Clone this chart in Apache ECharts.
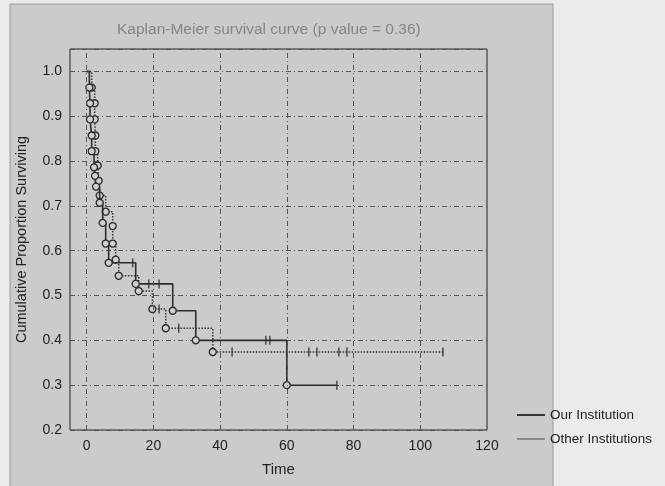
<!DOCTYPE html>
<html>
<head>
<meta charset="utf-8">
<script src="https://cdn.jsdelivr.net/npm/echarts@6/dist/echarts.min.js"></script>
<style>
  html, body { margin: 0; padding: 0; background: #ebebeb; }
  #chart { width: 665px; height: 486px; }
</style>
</head>
<body>
<div id="chart"></div>
<script>
// Kaplan-Meier steps (time, cumulative proportion surviving)
const ourTime = [0, 0.8, 1.0, 1.0, 1.5, 1.5, 2.2, 2.5, 2.8, 3.9, 4.8, 5.7, 6.6, 14.7, 25.8, 32.7, 60, 75];
const ourSurv = [1, 0.964, 0.929, 0.893, 0.857, 0.822, 0.786, 0.767, 0.743, 0.707, 0.662, 0.616, 0.573, 0.526, 0.466, 0.400, 0.300, 0.300];
const ourCensTime = [13.8, 18.6, 21.7, 53.7, 54.9, 75];
const ourCensSurv = [0.573, 0.526, 0.526, 0.400, 0.400, 0.300];

const otherTime = [0, 1.5, 2.4, 2.4, 2.6, 2.6, 3.3, 3.6, 3.9, 5.7, 7.8, 7.8, 8.7, 9.6, 15.6, 19.7, 23.7, 37.8, 106.8];
const otherSurv = [1, 0.964, 0.929, 0.893, 0.857, 0.822, 0.790, 0.756, 0.723, 0.687, 0.655, 0.616, 0.580, 0.544, 0.510, 0.470, 0.427, 0.374, 0.374];
const otherCensTime = [21.7, 27.6, 43.6, 66.6, 69, 75.6, 78, 106.8];
const otherCensSurv = [0.470, 0.427, 0.374, 0.374, 0.374, 0.374, 0.374, 0.374];

const xGridTicks = [0, 20, 40, 60, 80, 100];
const seriesNames = ['Our Institution', 'Other Institutions'];

// first point (t=0) and last point (end of follow-up) carry no circle
function kmData(times, surv) {
  return times.map((t, i) => {
    const item = { value: [t, surv[i]] };
    if (i === 0 || i === times.length - 1) item.symbol = 'none';
    return item;
  });
}
function pairs(times, surv) {
  return times.map((t, i) => [t, surv[i]]);
}

const ink = '#2a2a2a';
const gridStyle = { color: '#555', width: 1, type: [5, 3, 1, 3] };

const chart = echarts.init(document.getElementById('chart'));
chart.setOption({
  animation: false,
  backgroundColor: '#ebebeb',
  textStyle: { fontFamily: 'Liberation Sans, Arial, sans-serif' },
  graphic: [{
    type: 'rect',
    z: -10,
    shape: { x: 10, y: 4, width: 543, height: 490 },
    style: { fill: '#cbcbcb', stroke: '#9a9a9a', lineWidth: 1 }
  }],
  title: {
    text: 'Kaplan-Meier survival curve (p value = 0.36)',
    left: 112,
    top: 17,
    textStyle: { fontSize: 15.5, fontWeight: 'normal', color: '#858585' }
  },
  legend: {
    orient: 'vertical',
    left: 512,
    top: 403,
    itemWidth: 28,
    itemHeight: 2,
    itemGap: 10,
    textStyle: { fontSize: 13.5, color: '#222' },
    data: [
      { name: seriesNames[0], icon: 'rect', itemStyle: { color: '#333', borderWidth: 0 } },
      { name: seriesNames[1], icon: 'rect', itemStyle: { color: '#8a8a8a', borderWidth: 0 } }
    ]
  },
  grid: {
    left: 70,
    right: 178,
    top: 49,
    bottom: 56,
    show: true,
    borderColor: '#222',
    borderWidth: 1
  },
  xAxis: {
    type: 'value',
    min: -5,
    max: 120,
    interval: 5,
    name: 'Time',
    nameLocation: 'middle',
    nameGap: 32,
    nameTextStyle: { fontSize: 15, color: '#222' },
    axisLine: { show: false },
    axisTick: { show: false },
    splitLine: { show: false },
    axisLabel: {
      fontSize: 14,
      color: '#222',
      margin: 9,
      formatter: v => (v % 20 === 0 ? String(v) : '')
    }
  },
  yAxis: {
    type: 'value',
    min: 0.2,
    max: 1.05,
    interval: 0.1,
    name: 'Cumulative Proportion Surviving',
    nameLocation: 'middle',
    nameGap: 41,
    nameTextStyle: { fontSize: 14.5, color: '#222' },
    axisLine: { show: false },
    axisTick: { show: false },
    splitLine: { show: true, lineStyle: gridStyle },
    axisLabel: {
      fontSize: 14,
      color: '#222',
      margin: 8,
      showMaxLabel: false,
      formatter: v => v.toFixed(1)
    }
  },
  series: [
    {
      name: seriesNames[0],
      type: 'line',
      step: 'end',
      data: kmData(ourTime, ourSurv),
      symbol: 'circle',
      symbolSize: 7,
      showAllSymbol: true,
      lineStyle: { color: '#2e2e2e', width: 1.6 },
      itemStyle: { color: '#cfcfcf', borderColor: ink, borderWidth: 1.3 },
      emphasis: { disabled: true },
      z: 4
    },
    {
      name: seriesNames[1],
      type: 'line',
      step: 'end',
      data: kmData(otherTime, otherSurv),
      symbol: 'circle',
      symbolSize: 7,
      showAllSymbol: true,
      lineStyle: { color: '#333', width: 1.5, type: 'dotted' },
      itemStyle: { color: '#cfcfcf', borderColor: ink, borderWidth: 1.3 },
      emphasis: { disabled: true },
      z: 3
    },
    {
      name: 'our-censored',
      type: 'scatter',
      data: pairs(ourCensTime, ourCensSurv),
      symbol: 'rect',
      symbolSize: [1.5, 9],
      itemStyle: { color: ink },
      emphasis: { disabled: true },
      z: 5,
      // vertical grid lines at the labelled time ticks
      markLine: {
        silent: true,
        symbol: ['none', 'none'],
        label: { show: false },
        lineStyle: gridStyle,
        data: xGridTicks.map(v => ({ xAxis: v }))
      }
    },
    {
      name: 'other-censored',
      type: 'scatter',
      data: pairs(otherCensTime, otherCensSurv),
      symbol: 'rect',
      symbolSize: [1.5, 9],
      itemStyle: { color: ink },
      emphasis: { disabled: true },
      z: 5
    }
  ]
});
</script>
</body>
</html>
